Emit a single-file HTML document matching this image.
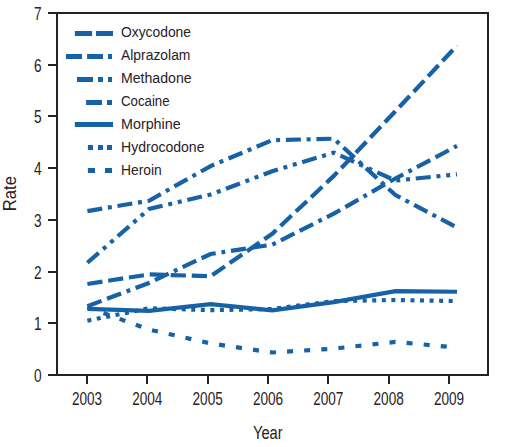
<!DOCTYPE html>
<html><head><meta charset="utf-8"><style>
html,body{margin:0;padding:0;background:#fff;}
svg{display:block;}
text{font-family:"Liberation Sans",sans-serif;fill:#28221f;}
.lg{font-size:15.4px;}
.ax{font-size:17.6px;}
</style></head><body>
<svg width="505" height="447" viewBox="0 0 505 447">
<path d="M57,13 V375 H488 V13 H48" fill="none" stroke="#28221f" stroke-width="2" stroke-linejoin="miter"/>
<line x1="48" y1="375.00" x2="57" y2="375.00" stroke="#28221f" stroke-width="2"/>
<text x="41.5" y="381.80" text-anchor="end" textLength="7.6" lengthAdjust="spacingAndGlyphs" class="ax">0</text>
<line x1="48" y1="323.00" x2="57" y2="323.00" stroke="#28221f" stroke-width="2"/>
<text x="41.5" y="329.80" text-anchor="end" textLength="7.6" lengthAdjust="spacingAndGlyphs" class="ax">1</text>
<line x1="48" y1="272.00" x2="57" y2="272.00" stroke="#28221f" stroke-width="2"/>
<text x="41.5" y="278.80" text-anchor="end" textLength="7.6" lengthAdjust="spacingAndGlyphs" class="ax">2</text>
<line x1="48" y1="220.00" x2="57" y2="220.00" stroke="#28221f" stroke-width="2"/>
<text x="41.5" y="226.80" text-anchor="end" textLength="7.6" lengthAdjust="spacingAndGlyphs" class="ax">3</text>
<line x1="48" y1="168.00" x2="57" y2="168.00" stroke="#28221f" stroke-width="2"/>
<text x="41.5" y="174.80" text-anchor="end" textLength="7.6" lengthAdjust="spacingAndGlyphs" class="ax">4</text>
<line x1="48" y1="116.00" x2="57" y2="116.00" stroke="#28221f" stroke-width="2"/>
<text x="41.5" y="122.80" text-anchor="end" textLength="7.6" lengthAdjust="spacingAndGlyphs" class="ax">5</text>
<line x1="48" y1="65.00" x2="57" y2="65.00" stroke="#28221f" stroke-width="2"/>
<text x="41.5" y="71.80" text-anchor="end" textLength="7.6" lengthAdjust="spacingAndGlyphs" class="ax">6</text>
<line x1="48" y1="13.00" x2="57" y2="13.00" stroke="#28221f" stroke-width="2"/>
<text x="41.5" y="19.80" text-anchor="end" textLength="7.6" lengthAdjust="spacingAndGlyphs" class="ax">7</text>
<line x1="87.00" y1="375" x2="87.00" y2="384" stroke="#28221f" stroke-width="2"/>
<text x="87.00" y="404.6" text-anchor="middle" textLength="30.2" lengthAdjust="spacingAndGlyphs" class="ax">2003</text>
<line x1="147.00" y1="375" x2="147.00" y2="384" stroke="#28221f" stroke-width="2"/>
<text x="147.33" y="404.6" text-anchor="middle" textLength="30.2" lengthAdjust="spacingAndGlyphs" class="ax">2004</text>
<line x1="208.00" y1="375" x2="208.00" y2="384" stroke="#28221f" stroke-width="2"/>
<text x="207.67" y="404.6" text-anchor="middle" textLength="30.2" lengthAdjust="spacingAndGlyphs" class="ax">2005</text>
<line x1="268.00" y1="375" x2="268.00" y2="384" stroke="#28221f" stroke-width="2"/>
<text x="268.00" y="404.6" text-anchor="middle" textLength="30.2" lengthAdjust="spacingAndGlyphs" class="ax">2006</text>
<line x1="328.00" y1="375" x2="328.00" y2="384" stroke="#28221f" stroke-width="2"/>
<text x="328.33" y="404.6" text-anchor="middle" textLength="30.2" lengthAdjust="spacingAndGlyphs" class="ax">2007</text>
<line x1="389.00" y1="375" x2="389.00" y2="384" stroke="#28221f" stroke-width="2"/>
<text x="388.67" y="404.6" text-anchor="middle" textLength="30.2" lengthAdjust="spacingAndGlyphs" class="ax">2008</text>
<line x1="449.00" y1="375" x2="449.00" y2="384" stroke="#28221f" stroke-width="2"/>
<text x="449.00" y="404.6" text-anchor="middle" textLength="30.2" lengthAdjust="spacingAndGlyphs" class="ax">2009</text>
<text x="267.8" y="438.8" text-anchor="middle" textLength="29.7" lengthAdjust="spacingAndGlyphs" class="ax">Year</text>
<text transform="translate(15.5,193.6) rotate(-90)" x="0" y="0" text-anchor="middle" textLength="35.2" lengthAdjust="spacingAndGlyphs" class="ax">Rate</text>
<polyline points="87.40,283.98 149.00,274.42 210.60,276.23 272.20,233.82 333.80,175.90 395.40,111.26 457.00,45.58" fill="none" stroke="#1761a6" stroke-width="4.2" stroke-linejoin="miter" stroke-linecap="butt" stroke-dasharray="15.2 5.82" stroke-dashoffset="0"/>
<polyline points="87.40,306.22 149.00,282.95 210.60,253.99 272.20,244.68 333.80,213.65 395.40,178.49 457.00,145.91" fill="none" stroke="#1761a6" stroke-width="4.2" stroke-linejoin="miter" stroke-linecap="butt" stroke-dasharray="15.1 5.85 15.1 5.85 3.8 5.8" stroke-dashoffset="0"/>
<polyline points="87.40,262.78 149.00,209.00 210.60,194.52 272.20,171.25 333.80,152.63 395.40,180.55 457.00,174.35" fill="none" stroke="#1761a6" stroke-width="4.2" stroke-linejoin="miter" stroke-linecap="butt" stroke-dasharray="15 5.8 4 5.8 4 5.77" stroke-dashoffset="0"/>
<polyline points="87.40,211.07 149.00,200.72 210.60,166.07 272.20,140.22 333.80,138.67 395.40,195.03 457.00,227.61" fill="none" stroke="#1761a6" stroke-width="4.2" stroke-linejoin="miter" stroke-linecap="butt" stroke-dasharray="15 5.76 4 5.76" stroke-dashoffset="0"/>
<polyline points="87.40,308.81 149.00,310.87 210.60,304.15 272.20,310.36 333.80,302.08 395.40,291.22 457.00,291.74" fill="none" stroke="#1761a6" stroke-width="4.2" stroke-linejoin="miter" stroke-linecap="butt"/>
<polyline points="87.40,320.70 149.00,308.29 210.60,310.10 272.20,309.06 333.80,301.05 395.40,300.01 457.00,301.05" fill="none" stroke="#1761a6" stroke-width="4.2" stroke-linejoin="miter" stroke-linecap="butt" stroke-dasharray="4 5.555" stroke-dashoffset="0"/>
<polyline points="87.40,307.25 149.00,329.49 210.60,343.45 272.20,352.50 333.80,348.63 395.40,341.90 457.00,347.59" fill="none" stroke="#1761a6" stroke-width="4.2" stroke-linejoin="miter" stroke-linecap="butt" stroke-dasharray="6 11.15" stroke-dashoffset="0"/>
<rect x="74.85" y="31" width="17.25" height="5" fill="#1761a6"/>
<rect x="96.00" y="31" width="17.00" height="5" fill="#1761a6"/>
<rect x="65.90" y="54" width="16.10" height="5" fill="#1761a6"/>
<rect x="87.10" y="54" width="15.90" height="5" fill="#1761a6"/>
<rect x="108.00" y="54" width="4.00" height="5" fill="#1761a6"/>
<rect x="77.00" y="77" width="16.00" height="5" fill="#1761a6"/>
<rect x="98.00" y="77" width="5.00" height="5" fill="#1761a6"/>
<rect x="108.00" y="77" width="4.00" height="5" fill="#1761a6"/>
<rect x="86.10" y="100" width="15.90" height="5" fill="#1761a6"/>
<rect x="107.00" y="100" width="5.00" height="5" fill="#1761a6"/>
<rect x="74.85" y="122" width="38.15" height="5" fill="#1761a6"/>
<rect x="87.90" y="145" width="5.10" height="5" fill="#1761a6"/>
<rect x="98.00" y="145" width="5.00" height="5" fill="#1761a6"/>
<rect x="107.00" y="145" width="5.00" height="5" fill="#1761a6"/>
<rect x="87.90" y="168" width="7.10" height="5" fill="#1761a6"/>
<rect x="105.00" y="168" width="7.00" height="5" fill="#1761a6"/>
<text x="121" y="36.90" textLength="70.0" lengthAdjust="spacingAndGlyphs" class="lg">Oxycodone</text>
<text x="121" y="59.85" textLength="69.4" lengthAdjust="spacingAndGlyphs" class="lg">Alprazolam</text>
<text x="121" y="82.80" textLength="70.6" lengthAdjust="spacingAndGlyphs" class="lg">Methadone</text>
<text x="121" y="105.75" textLength="48.6" lengthAdjust="spacingAndGlyphs" class="lg">Cocaine</text>
<text x="121" y="128.70" textLength="59.7" lengthAdjust="spacingAndGlyphs" class="lg">Morphine</text>
<text x="121" y="151.65" textLength="83.5" lengthAdjust="spacingAndGlyphs" class="lg">Hydrocodone</text>
<text x="121" y="174.60" textLength="40.8" lengthAdjust="spacingAndGlyphs" class="lg">Heroin</text>
</svg>
</body></html>
